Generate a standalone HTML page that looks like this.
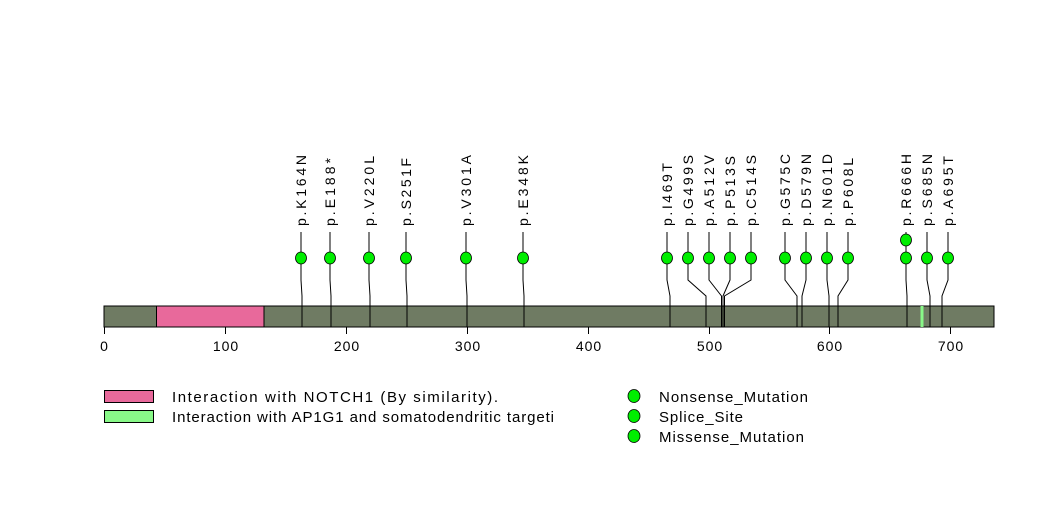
<!DOCTYPE html>
<html><head><meta charset="utf-8"><style>
html,body{margin:0;padding:0;background:#fff;}
svg{display:block;}
text{font-family:"Liberation Sans",sans-serif;fill:#000;}
</style></head><body>
<svg width="1047" height="524" viewBox="0 0 1047 524" xmlns="http://www.w3.org/2000/svg">
<rect x="0" y="0" width="1047" height="524" fill="#fff"/>
<rect x="104" y="306" width="890" height="21" fill="#6f7b63" stroke="#000" stroke-width="1"/>
<rect x="156.5" y="306" width="107.5" height="21" fill="#e8699b" stroke="#000" stroke-width="1"/>
<rect x="920.5" y="306" width="3" height="21" fill="#88f888"/>
<g stroke="#000" stroke-width="1" fill="none">
<path d="M301 232 L301 280 L302 296 L302 327"/>
<path d="M330 232 L330 280 L331 296 L331 327"/>
<path d="M369 232 L369 280 L370 296 L370 327"/>
<path d="M406 232 L406 280 L407 296 L407 327"/>
<path d="M466 232 L466 280 L467 296 L467 327"/>
<path d="M523 232 L523 280 L524 296 L524 327"/>
<path d="M667 232 L667 280 L670 296 L670 327"/>
<path d="M688 232 L688 280 L706 296 L706 327"/>
<path d="M709 232 L709 280 L721.5 296 L721.5 327"/>
<path d="M730 232 L730 280 L723 296 L723 327"/>
<path d="M751 232 L751 280 L724.5 296 L724.5 327"/>
<path d="M785 232 L785 280 L797 296 L797 327"/>
<path d="M806 232 L806 280 L802 296 L802 327"/>
<path d="M827 232 L827 280 L829 296 L829 327"/>
<path d="M848 232 L848 280 L838 296 L838 327"/>
<path d="M906 232 L906 280 L907 296 L907 327"/>
<path d="M927 232 L927 280 L930 296 L930 327"/>
<path d="M948 232 L948 280 L942 296 L942 327"/>
</g>
<g fill="#00ee00" stroke="#000" stroke-width="0.8">
<ellipse cx="301" cy="258" rx="5.5" ry="6"/>
<ellipse cx="330" cy="258" rx="5.5" ry="6"/>
<ellipse cx="369" cy="258" rx="5.5" ry="6"/>
<ellipse cx="406" cy="258" rx="5.5" ry="6"/>
<ellipse cx="466" cy="258" rx="5.5" ry="6"/>
<ellipse cx="523" cy="258" rx="5.5" ry="6"/>
<ellipse cx="667" cy="258" rx="5.5" ry="6"/>
<ellipse cx="688" cy="258" rx="5.5" ry="6"/>
<ellipse cx="709" cy="258" rx="5.5" ry="6"/>
<ellipse cx="730" cy="258" rx="5.5" ry="6"/>
<ellipse cx="751" cy="258" rx="5.5" ry="6"/>
<ellipse cx="785" cy="258" rx="5.5" ry="6"/>
<ellipse cx="806" cy="258" rx="5.5" ry="6"/>
<ellipse cx="827" cy="258" rx="5.5" ry="6"/>
<ellipse cx="848" cy="258" rx="5.5" ry="6"/>
<ellipse cx="906" cy="240" rx="5.5" ry="6"/>
<ellipse cx="906" cy="258" rx="5.5" ry="6"/>
<ellipse cx="927" cy="258" rx="5.5" ry="6"/>
<ellipse cx="948" cy="258" rx="5.5" ry="6"/>
</g>
<g font-size="14">
<text transform="translate(306,226) rotate(-90)" textLength="71" lengthAdjust="spacing">p.K164N</text>
<text transform="translate(335,226) rotate(-90)" textLength="68" lengthAdjust="spacing">p.E188*</text>
<text transform="translate(374,226) rotate(-90)" textLength="70" lengthAdjust="spacing">p.V220L</text>
<text transform="translate(411,226) rotate(-90)" textLength="68" lengthAdjust="spacing">p.S251F</text>
<text transform="translate(471,226) rotate(-90)" textLength="71" lengthAdjust="spacing">p.V301A</text>
<text transform="translate(528,226) rotate(-90)" textLength="71" lengthAdjust="spacing">p.E348K</text>
<text transform="translate(672,226) rotate(-90)" textLength="63" lengthAdjust="spacing">p.I469T</text>
<text transform="translate(693,226) rotate(-90)" textLength="71" lengthAdjust="spacing">p.G499S</text>
<text transform="translate(714,226) rotate(-90)" textLength="71" lengthAdjust="spacing">p.A512V</text>
<text transform="translate(735,226) rotate(-90)" textLength="70" lengthAdjust="spacing">p.P513S</text>
<text transform="translate(756,226) rotate(-90)" textLength="71" lengthAdjust="spacing">p.C514S</text>
<text transform="translate(790,226) rotate(-90)" textLength="72" lengthAdjust="spacing">p.G575C</text>
<text transform="translate(811,226) rotate(-90)" textLength="72" lengthAdjust="spacing">p.D579N</text>
<text transform="translate(832,226) rotate(-90)" textLength="72" lengthAdjust="spacing">p.N601D</text>
<text transform="translate(853,226) rotate(-90)" textLength="68" lengthAdjust="spacing">p.P608L</text>
<text transform="translate(911,226) rotate(-90)" textLength="72" lengthAdjust="spacing">p.R666H</text>
<text transform="translate(932,226) rotate(-90)" textLength="72" lengthAdjust="spacing">p.S685N</text>
<text transform="translate(953,226) rotate(-90)" textLength="70" lengthAdjust="spacing">p.A695T</text>
</g>
<g stroke="#000" stroke-width="1">
<line x1="104.5" y1="327" x2="104.5" y2="334"/>
<line x1="225.5" y1="327" x2="225.5" y2="334"/>
<line x1="346.5" y1="327" x2="346.5" y2="334"/>
<line x1="467.5" y1="327" x2="467.5" y2="334"/>
<line x1="588.5" y1="327" x2="588.5" y2="334"/>
<line x1="709.5" y1="327" x2="709.5" y2="334"/>
<line x1="829.5" y1="327" x2="829.5" y2="334"/>
<line x1="950.5" y1="327" x2="950.5" y2="334"/>
</g>
<g font-size="14" text-anchor="middle" letter-spacing="1">
<text x="104.5" y="351">0</text>
<text x="226" y="351">100</text>
<text x="347" y="351">200</text>
<text x="468" y="351">300</text>
<text x="589" y="351">400</text>
<text x="710" y="351">500</text>
<text x="830" y="351">600</text>
<text x="951" y="351">700</text>
</g>
<rect x="104.5" y="390.5" width="49" height="12" fill="#e8699b" stroke="#000"/>
<rect x="104.5" y="410.5" width="49" height="12" fill="#88f888" stroke="#000"/>
<g font-size="15">
<text x="172" y="402" textLength="326" lengthAdjust="spacing">Interaction with NOTCH1 (By similarity).</text>
<text x="172" y="422" textLength="382" lengthAdjust="spacing">Interaction with AP1G1 and somatodendritic targeti</text>
<text x="659" y="402" textLength="149" lengthAdjust="spacing">Nonsense_Mutation</text>
<text x="659" y="422" textLength="84" lengthAdjust="spacing">Splice_Site</text>
<text x="659" y="442" textLength="145" lengthAdjust="spacing">Missense_Mutation</text>
</g>
<g fill="#00ee00" stroke="#000" stroke-width="0.8">
<ellipse cx="634" cy="396" rx="6" ry="6.5"/>
<ellipse cx="634" cy="416" rx="6" ry="6.5"/>
<ellipse cx="634" cy="436" rx="6" ry="6.5"/>
</g>
</svg>
</body></html>
